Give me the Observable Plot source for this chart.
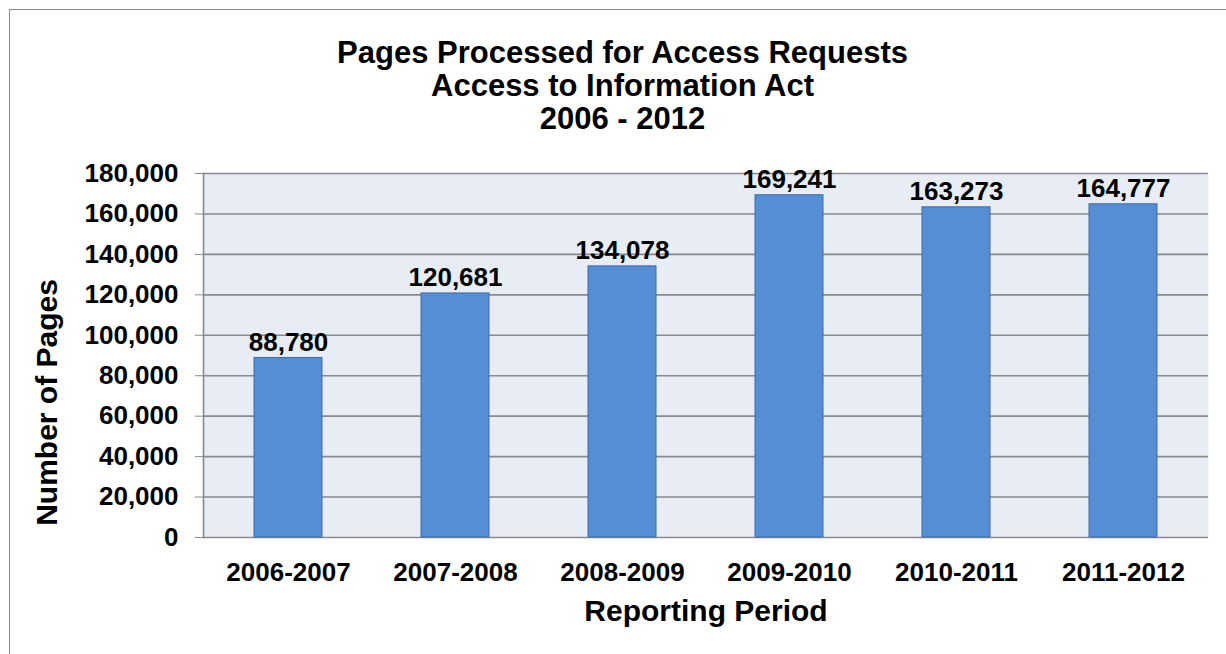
<!DOCTYPE html>
<html>
<head>
<meta charset="utf-8">
<script src="https://cdn.jsdelivr.net/npm/d3@7"></script>
<script src="https://cdn.jsdelivr.net/npm/@observablehq/plot@0.6"></script>
<style>
  html, body { margin: 0; padding: 0; background: #fff; }
  #wrap { position: relative; width: 1226px; height: 654px; overflow: hidden; }
  #border { position: absolute; left: 9px; top: 9px; width: 1300px; height: 700px;
            border-left: 1.5px solid #8a8a8a; border-top: 1.5px solid #8a8a8a; pointer-events: none; }
</style>
</head>
<body>
<div id="wrap"><div id="border"></div></div>
<script>
const periods = ["2006-2007", "2007-2008", "2008-2009", "2009-2010", "2010-2011", "2011-2012"];
const pages = [88780, 120681, 134078, 169241, 163273, 164777];
const yTicks = [0, 20000, 40000, 60000, 80000, 100000, 120000, 140000, 160000, 180000];
const titleLines = ["Pages Processed for Access Requests", "Access to Information Act", "2006 - 2012"];
const xTitle = "Reporting Period";
const yTitle = "Number of Pages";

const data = periods.map((p, i) => ({period: p, value: pages[i]}));
const fmt = d3.format(",");
const font = "'Liberation Sans', Arial, sans-serif";

const chart = Plot.plot({
  width: 1226,
  height: 654,
  marginLeft: 203,
  marginRight: 18,
  marginTop: 173,
  marginBottom: 117,
  style: {fontFamily: font, fontWeight: "bold", color: "black", background: "transparent"},
  x: {domain: periods, paddingInner: 0.59, paddingOuter: 0.295, label: null},
  y: {domain: [0, 180000], label: null},
  marks: [
    Plot.frame({fill: "#e7ecf5", stroke: "none"}),
    Plot.ruleY(yTicks, {stroke: "#8a8a8a", strokeWidth: 1.6}),
    Plot.frame({anchor: "left", stroke: "#8a8a8a", strokeWidth: 1.6}),
    Plot.barY(data, {x: "period", y: "value", fill: "#558ed5", stroke: "#3d6ca6", strokeWidth: 1}),
    Plot.text(data, {x: "period", y: "value", text: d => fmt(d.value), lineAnchor: "bottom", dy: -7, fontSize: 26, fontWeight: "bold", fill: "black"}),
    Plot.axisY({ticks: yTicks, tickSize: 8, tickPadding: 17, tickFormat: fmt, fontSize: 26, fontWeight: "bold", stroke: "#8a8a8a", fill: "black", label: null}),
    Plot.axisX({tickSize: 0, tickPadding: 25, fontSize: 26, fontWeight: "bold", fill: "black", label: null}),
    Plot.text([titleLines.join("\n")], {frameAnchor: "top-left", dx: 419, dy: -134, textAnchor: "middle", lineAnchor: "top", lineHeight: 1.065, fontSize: 31, fontWeight: "bold", fill: "black"}),
    Plot.text([xTitle], {frameAnchor: "bottom", dy: 62, lineAnchor: "top", fontSize: 30, fontWeight: "bold", fill: "black"}),
    Plot.text([yTitle], {frameAnchor: "left", rotate: -90, dx: -156, dy: 47, lineAnchor: "middle", textAnchor: "middle", fontSize: 30, fontWeight: "bold", fill: "black"})
  ]
});
document.getElementById("wrap").insertBefore(chart, document.getElementById("border"));
</script>
</body>
</html>
